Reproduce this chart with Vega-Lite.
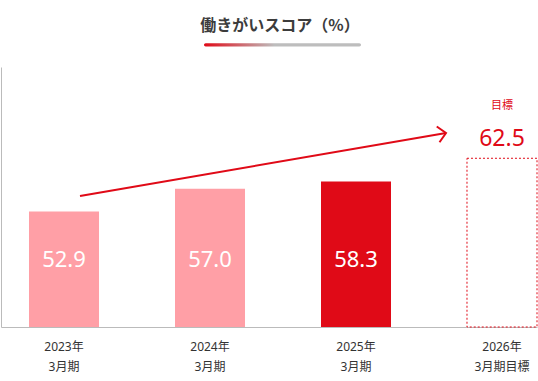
{
  "$schema": "https://vega.github.io/schema/vega-lite/v6.json",
  "width": 536,
  "height": 260,
  "autosize": {"type": "none"},
  "padding": {"left": 1, "top": 67, "right": 1, "bottom": 54},
  "title": {
    "text": "働きがいスコア（%）",
    "font": "Noto Sans CJK JP",
    "fontSize": 16,
    "fontWeight": "bold",
    "color": "#3c3c3c",
    "anchor": "middle",
    "dx": 11,
    "offset": 9
  },
  "data": {
    "values": [
      {"period": "2023年 3月期", "value": 52.9, "kind": "past"},
      {"period": "2024年 3月期", "value": 57.0, "kind": "past"},
      {"period": "2025年 3月期", "value": 58.3, "kind": "latest"},
      {"period": "2026年 3月期目標", "value": 62.5, "kind": "target"}
    ]
  },
  "encoding": {
    "x": {
      "field": "period",
      "type": "nominal",
      "sort": null,
      "title": null,
      "scale": {
        "type": "band",
        "domain": ["2023年 3月期", "2024年 3月期", "2025年 3月期", "2026年 3月期目標"],
        "paddingInner": 0.5205,
        "paddingOuter": 0.0959,
        "align": 1
      },
      "axis": {"labelExpr": "split(datum.label, ' ')", "labelAngle": 0}
    },
    "y": {
      "field": "value",
      "type": "quantitative",
      "title": null,
      "scale": {"domain": [32, 79], "zero": false, "nice": false}
    }
  },
  "layer": [
    {
      "transform": [{"filter": "datum.kind !== 'target'"}],
      "mark": {"type": "bar"},
      "encoding": {
        "y2": {"datum": 32},
        "color": {
          "field": "kind",
          "type": "nominal",
          "scale": {"domain": ["past", "latest"], "range": ["#FF9FA6", "#E00A17"]},
          "legend": null
        }
      }
    },
    {
      "transform": [{"filter": "datum.kind === 'target'"}],
      "mark": {"type": "bar", "fill": "white", "stroke": "#E00A17", "strokeWidth": 1, "strokeDash": [2, 2]},
      "encoding": {"y2": {"datum": 32}}
    },
    {
      "transform": [{"filter": "datum.kind !== 'target'"}],
      "mark": {"type": "text", "color": "white", "font": "Noto Sans", "fontSize": 22, "baseline": "middle", "align": "center"},
      "encoding": {
        "y": {"datum": 44.1, "type": "quantitative", "title": null},
        "text": {"field": "value", "type": "quantitative", "format": ".1f"}
      }
    },
    {
      "transform": [{"filter": "datum.kind === 'target'"}],
      "mark": {"type": "text", "color": "#E00A17", "font": "Noto Sans", "fontSize": 23, "baseline": "alphabetic", "align": "center", "dy": -12},
      "encoding": {
        "text": {"field": "value", "type": "quantitative", "format": ".1f"}
      }
    },
    {
      "transform": [{"filter": "datum.kind === 'target'"}],
      "mark": {"type": "text", "color": "#E00A17", "font": "Noto Sans CJK JP", "fontSize": 11, "baseline": "alphabetic", "align": "center", "dy": -49, "text": "目標"}
    },
    {
      "transform": [{"filter": "datum.kind === 'target'"}],
      "mark": {"type": "rule", "color": "#E00A17", "strokeWidth": 2, "xOffset": 16, "x2Offset": -56},
      "encoding": {
        "x": {"datum": "2023年 3月期"},
        "x2": {"datum": "2026年 3月期目標"},
        "y": {"datum": 55.68},
        "y2": {"datum": 67.07}
      }
    },
    {
      "transform": [{"filter": "datum.kind === 'target'"}],
      "mark": {"type": "point", "shape": "M-1,-1L0,0L-1,1", "filled": false, "stroke": "#E00A17", "strokeWidth": 2, "size": 256, "angle": -10, "opacity": 1, "xOffset": -56},
      "encoding": {
        "y": {"datum": 67.07}
      }
    },
    {
      "transform": [{"filter": "datum.kind === 'target'"}],
      "mark": {
        "type": "rect",
        "cornerRadius": 2,
        "xOffset": -6,
        "x2Offset": 5,
        "fill": {
          "gradient": "linear",
          "x1": 0, "y1": 0, "x2": 1, "y2": 0,
          "stops": [
            {"offset": 0, "color": "#E00A17"},
            {"offset": 0.45, "color": "#bdbdbd"},
            {"offset": 1, "color": "#bdbdbd"}
          ]
        }
      },
      "encoding": {
        "x": {"datum": "2024年 3月期", "bandPosition": 0.5},
        "x2": {"datum": "2025年 3月期", "bandPosition": 0.5},
        "y": {"datum": 83.3},
        "y2": {"datum": 82.7}
      }
    }
  ],
  "config": {
    "view": {"stroke": null},
    "axisX": {
      "ticks": false,
      "domainColor": "#bbbbbb",
      "labelFont": "Noto Sans, Noto Sans CJK JP",
      "labelFontSize": 12,
      "labelColor": "#333333",
      "labelPadding": 14,
      "labelLineHeight": 20,
      "titleOpacity": 0
    },
    "axisY": {
      "ticks": false,
      "labels": false,
      "grid": false,
      "domainColor": "#bbbbbb",
      "titleOpacity": 0
    }
  }
}
